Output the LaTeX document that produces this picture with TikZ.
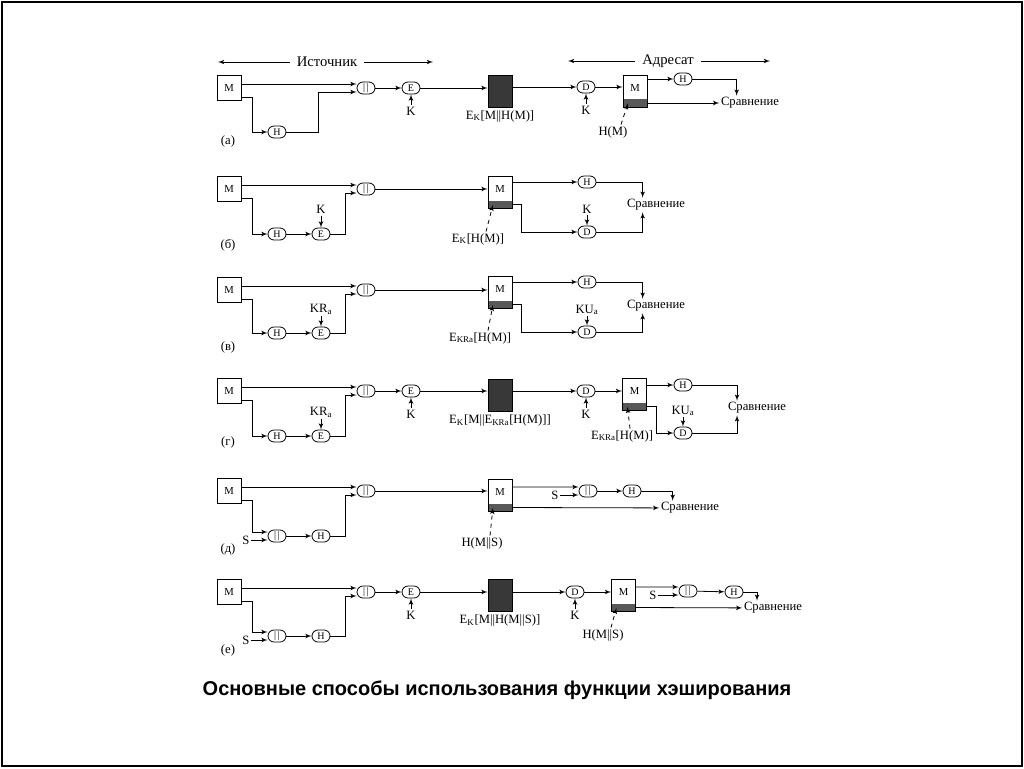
\documentclass[tikz,border=0pt]{standalone}
\usepackage{fontspec}
\setmainfont{Liberation Serif}
\newfontfamily\titlefont{Liberation Sans}
\usepackage{tikz}
\usetikzlibrary{shapes,arrows,arrows.meta}
\usetikzlibrary{positioning}
\tikzstyle{msgbox} = [rectangle, draw, minimum width=18pt, minimum height=19pt,
    inner sep=0pt, font=\fontsize{8}{8}\selectfont]
\tikzstyle{func} = [rectangle, draw, rounded corners=4.5pt, minimum width=13.5pt,
    minimum height=9pt, inner sep=0pt, font=\fontsize{7.5}{7.5}\selectfont]
\tikzstyle{cipher} = [rectangle, draw, fill=black!78, minimum width=18pt, minimum height=24pt]
\tikzstyle{recv} = [rectangle, draw, minimum width=18pt, minimum height=24pt, inner sep=0pt,
    text height=5pt, text depth=5pt, font=\fontsize{8}{8}\selectfont,
    path picture={\fill[black!65] ([yshift=6pt]path picture bounding box.south west)
    rectangle (path picture bounding box.south east);}]
\tikzstyle{line} = [draw, -latex']
\tikzstyle{leader} = [draw, dashed, -latex']
\tikzstyle{lbl} = [inner sep=1pt]
\tikzstyle{head} = [inner sep=5pt, font=\fontsize{11}{12}\selectfont]

\begin{document}
\begin{tikzpicture}[x=0.75pt, y=-0.75pt, line width=0.6pt, font=\fontsize{9.5}{11}\selectfont]
\useasboundingbox (0,0) rectangle (1024,768);
\draw[line width=1pt] (2,2) rectangle (1022,766);

    % Headers
    \node [head] (srcLbl) at (327,62) {Источник};
    \coordinate (srcL) at (218,62);
    \coordinate (srcR) at (433,62);
    \node [head] (dstLbl) at (668,61) {Адресат};
    \coordinate (dstL) at (568,61);
    \coordinate (dstR) at (770,61);
    \path [line] (srcLbl) -- (srcL);
    \path [line] (srcLbl) -- (srcR);
    \path [line] (dstLbl) -- (dstL);
    \path [line] (dstLbl) -- (dstR);

    % (a) Place nodes
    \node [msgbox] (msgA) at (229,88) {M};
    \node [func] (hashA) at (277,132) {H};
    \node [func] (catA) at (366,88) {|\,|};
    \node [func] (encA) at (411,88) {E};
    \node [lbl, below=8pt of encA] (keyA) {K};
    \node [cipher] (ciphA) at (500,91) {};
    \node [lbl, below=1pt of ciphA] (ciphLblA) {E\textsubscript{K}[M||H(M)]};
    \node [func] (decA) at (586,87) {D};
    \node [lbl, below=8pt of decA] (keyDA) {K};
    \node [recv] (recvA) at (635,91) {M};
    \node [func] (hashRA) at (683,79) {H};
    \node [lbl] (cmpA) at (750,103) {Сравнение};
    \node [lbl] (hmA) at (613,132) {H(M)};
    \node [lbl] (tagA) at (228,141) {(а)};

    \path [line] ([yshift=3pt]msgA.east) -- ([yshift=3pt]catA.west);
    \path [line] ([yshift=-7pt]msgA.east) -- ++(11,0) |- (hashA);
    \path [line] (hashA.east) -- ++(32,0) |- ([yshift=-3pt]catA.west);
    \path [line] (catA) -- (encA);
    \path [line] (keyA) -- (encA);
    \path [line] (encA) -- (encA -| ciphA.west);
    \path [line] (ciphA.east |- decA) -- (decA);
    \path [line] (keyDA) -- (decA);
    \path [line] (decA) -- (decA -| recvA.west);
    \path [line] (recvA.east |- hashRA) -- (hashRA);
    \path [line] (hashRA) -| ([xshift=-10pt]cmpA.north);
    \path [line] ([yshift=-9pt]recvA.east) -- (cmpA);
    \path [leader] ([xshift=6pt]hmA.north) -- ([xshift=4pt,yshift=3pt]recvA.south west);

    % (b) Place nodes
    \node [msgbox] (msgB) at (229,189) {M};
    \node [func] (hashB) at (277,234) {H};
    \node [func] (encB) at (321,234) {E};
    \node [lbl, above=9pt of encB] (keyB) {K};
    \node [func] (catB) at (366,189) {|\,|};
    \node [recv] (recvB) at (500,192.5) {M};
    \node [lbl] (lblB) at (478,239) {E\textsubscript{K}[H(M)]};
    \node [func] (hashRB) at (587,182) {H};
    \node [func] (decRB) at (587,232) {D};
    \node [lbl, above=8pt of decRB] (keyRB) {K};
    \node [lbl] (cmpB) at (656,205) {Сравнение};
    \node [lbl] (tagB) at (228,245) {(б)};

    \path [line] ([yshift=3pt]msgB.east) -- ([yshift=3pt]catB.west);
    \path [line] ([yshift=-7pt]msgB.east) -- ++(11,0) |- (hashB);
    \path [line] (hashB) -- (encB);
    \path [line] (keyB) -- (encB);
    \path [line] (encB.east) -- ++(15,0) |- ([yshift=-3pt]catB.west);
    \path [line] (catB) -- (catB -| recvB.west);
    \path [line] (recvB.east |- hashRB) -- (hashRB);
    \path [line] ([yshift=-9pt]recvB.east) -- ++(9,0) |- (decRB);
    \path [line] (keyRB) -- (decRB);
    \path [line] (hashRB) -| ([xshift=-10pt]cmpB.north);
    \path [line] (decRB) -| ([xshift=-10pt]cmpB.south);
    \path [leader] ([xshift=6pt]lblB.north) -- ([xshift=4pt,yshift=3pt]recvB.south west);

    % (c) Place nodes
    \node [msgbox] (msgC) at (229,290) {M};
    \node [func] (hashC) at (277,333) {H};
    \node [func] (encC) at (321,333) {E};
    \node [lbl, above=8pt of encC] (keyC) {KR\textsubscript{a}};
    \node [func] (catC) at (366,290) {|\,|};
    \node [recv] (recvC) at (500,292.5) {M};
    \node [lbl] (lblC) at (480,338) {E\textsubscript{KRa}[H(M)]};
    \node [func] (hashRC) at (587,282) {H};
    \node [func] (decRC) at (587,332) {D};
    \node [lbl, above=7pt of decRC] (keyRC) {KU\textsubscript{a}};
    \node [lbl] (cmpC) at (656,306) {Сравнение};
    \node [lbl] (tagC) at (228,347) {(в)};

    \path [line] ([yshift=3pt]msgC.east) -- ([yshift=3pt]catC.west);
    \path [line] ([yshift=-7pt]msgC.east) -- ++(11,0) |- (hashC);
    \path [line] (hashC) -- (encC);
    \path [line] (keyC) -- (encC);
    \path [line] (encC.east) -- ++(15,0) |- ([yshift=-3pt]catC.west);
    \path [line] (catC) -- (catC -| recvC.west);
    \path [line] (recvC.east |- hashRC) -- (hashRC);
    \path [line] ([yshift=-9pt]recvC.east) -- ++(9,0) |- (decRC);
    \path [line] (keyRC) -- (decRC);
    \path [line] (hashRC) -| ([xshift=-10pt]cmpC.north);
    \path [line] (decRC) -| ([xshift=-10pt]cmpC.south);
    \path [leader] ([xshift=6pt]lblC.north) -- ([xshift=4pt,yshift=3pt]recvC.south west);

    % (d) Place nodes
    \node [msgbox] (msgD) at (229,391) {M};
    \node [func] (hashD) at (277,436) {H};
    \node [func] (encD) at (321,436) {E};
    \node [lbl, above=8pt of encD] (keyD) {KR\textsubscript{a}};
    \node [func] (catD) at (366,391) {|\,|};
    \node [func] (encOutD) at (411,391) {E};
    \node [lbl, below=8pt of encOutD] (keyOutD) {K};
    \node [cipher] (ciphD) at (500,395.5) {};
    \node [lbl, below=1pt of ciphD] (ciphLblD) {E\textsubscript{K}[M||E\textsubscript{KRa}[H(M)]]};
    \node [func] (decD) at (586,391) {D};
    \node [lbl, below=8pt of decD] (keyDD) {K};
    \node [recv] (recvD) at (634.5,394.5) {M};
    \node [func] (hashRD) at (683,385) {H};
    \node [func] (decRD) at (683,433) {D};
    \node [lbl, above=7pt of decRD] (keyRD) {KU\textsubscript{a}};
    \node [lbl] (cmpD) at (757,408) {Сравнение};
    \node [lbl] (lblD) at (622,436) {E\textsubscript{KRa}[H(M)]};
    \node [lbl] (tagD) at (228,442) {(г)};

    \path [line] ([yshift=3pt]msgD.east) -- ([yshift=3pt]catD.west);
    \path [line] ([yshift=-7pt]msgD.east) -- ++(11,0) |- (hashD);
    \path [line] (hashD) -- (encD);
    \path [line] (keyD) -- (encD);
    \path [line] (encD.east) -- ++(15,0) |- ([yshift=-3pt]catD.west);
    \path [line] (catD) -- (encOutD);
    \path [line] (keyOutD) -- (encOutD);
    \path [line] (encOutD) -- (encOutD -| ciphD.west);
    \path [line] (ciphD.east |- decD) -- (decD);
    \path [line] (keyDD) -- (decD);
    \path [line] (decD) -- (decD -| recvD.west);
    \path [line] (recvD.east |- hashRD) -- (hashRD);
    \path [line] ([yshift=-9pt]recvD.east) -- ++(9,0) |- (decRD);
    \path [line] (keyRD) -- (decRD);
    \path [line] (hashRD) -| ([xshift=-15pt]cmpD.north);
    \path [line] (decRD) -| ([xshift=-15pt]cmpD.south);
    \path [leader] ([xshift=6pt]lblD.north) -- ([xshift=4pt,yshift=3pt]recvD.south west);

    % (e) Place nodes
    \node [msgbox] (msgE) at (229,491) {M};
    \node [func] (catSE) at (277,536) {|\,|};
    \node [lbl] (sE) at (246,540) {S};
    \node [func] (hashE) at (321,536) {H};
    \node [func] (catE) at (366,491) {|\,|};
    \node [recv] (recvE) at (500,495.5) {M};
    \node [lbl] (lblE) at (482,543) {H(M||S)};
    \node [func] (catRE) at (588,491) {|\,|};
    \node [lbl] (sRE) at (555,495) {S};
    \node [func] (hashRE) at (632,491) {H};
    \node [lbl] (cmpE) at (690,508) {Сравнение};
    \node [lbl] (tagE) at (228,549) {(д)};

    \path [line] ([yshift=3pt]msgE.east) -- ([yshift=3pt]catE.west);
    \path [line] ([yshift=-7pt]msgE.east) -- ++(11,0) |- ([yshift=3pt]catSE.west);
    \path [line] (sE) -- ([yshift=-3pt]catSE.west);
    \path [line] (catSE) -- (hashE);
    \path [line] (hashE.east) -- ++(15,0) |- ([yshift=-3pt]catE.west);
    \path [line] (catE) -- (catE -| recvE.west);
    \path [line] ([yshift=6.4pt]recvE.east) -- ([yshift=3pt]catRE.west);
    \path [line] (sRE) -- ([yshift=-3pt]catRE.west);
    \path [line] (catRE) -- (hashRE);
    \path [line] (hashRE) -| ([xshift=-13pt]cmpE.north);
    \path [line] ([yshift=-9pt]recvE.east) -- (cmpE);
    \path [leader] ([xshift=6pt]lblE.north) -- ([xshift=4pt,yshift=3pt]recvE.south west);

    % (f) Place nodes
    \node [msgbox] (msgF) at (229,592) {M};
    \node [func] (catSF) at (277,636) {|\,|};
    \node [lbl] (sF) at (246,640) {S};
    \node [func] (hashF) at (321,636) {H};
    \node [func] (catF) at (366,592) {|\,|};
    \node [func] (encF) at (411,592) {E};
    \node [lbl, below=8pt of encF] (keyF) {K};
    \node [cipher] (ciphF) at (500,595.5) {};
    \node [lbl, below=1pt of ciphF] (ciphLblF) {E\textsubscript{K}[M||H(M||S)]};
    \node [func] (decF) at (575,592) {D};
    \node [lbl, below=8pt of decF] (keyDF) {K};
    \node [recv] (recvF) at (623.5,595.5) {M};
    \node [func] (catRF) at (688,591) {|\,|};
    \node [lbl] (sRF) at (653,595) {S};
    \node [func] (hashRF) at (734,592) {H};
    \node [lbl] (cmpF) at (773,608) {Сравнение};
    \node [lbl] (lblF) at (603,635) {H(M||S)};
    \node [lbl] (tagF) at (228,650) {(е)};

    \path [line] ([yshift=3pt]msgF.east) -- ([yshift=3pt]catF.west);
    \path [line] ([yshift=-7pt]msgF.east) -- ++(11,0) |- ([yshift=3pt]catSF.west);
    \path [line] (sF) -- ([yshift=-3pt]catSF.west);
    \path [line] (catSF) -- (hashF);
    \path [line] (hashF.east) -- ++(15,0) |- ([yshift=-3pt]catF.west);
    \path [line] (catF) -- (encF);
    \path [line] (keyF) -- (encF);
    \path [line] (encF) -- (encF -| ciphF.west);
    \path [line] (ciphF.east |- decF) -- (decF);
    \path [line] (keyDF) -- (decF);
    \path [line] (decF) -- (decF -| recvF.west);
    \path [line] ([yshift=6.4pt]recvF.east) -- ([yshift=3pt]catRF.west);
    \path [line] (sRF) -- ([yshift=-3pt]catRF.west);
    \path [line] (catRF) -- (hashRF);
    \path [line] (hashRF) -| ([xshift=-12pt]cmpF.north);
    \path [line] ([yshift=-9pt]recvF.east) -- (cmpF);
    \path [leader] ([xshift=6pt]lblF.north) -- ([xshift=4pt,yshift=3pt]recvF.south west);

    % Caption
    \node [font=\titlefont\bfseries\fontsize{15}{18}\selectfont] (title) at (497,690)
        {Основные способы использования функции хэширования};
\end{tikzpicture}
\end{document}
